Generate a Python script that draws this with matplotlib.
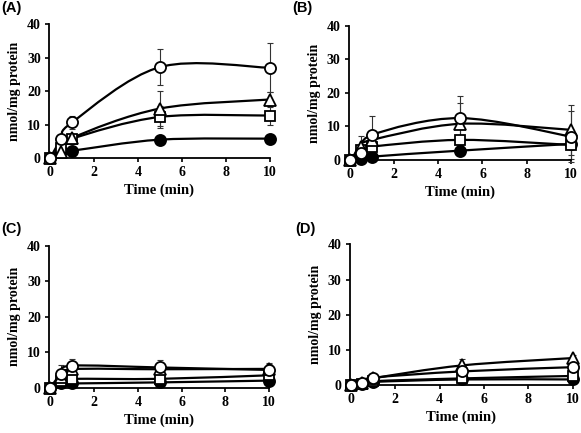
import numpy as np
import matplotlib
matplotlib.use("Agg")
import matplotlib.pyplot as plt
from matplotlib.path import Path
from matplotlib.patches import PathPatch

time = [0, 0.5, 1, 5, 10]
panel_labels = ["(A)", "(B)", "(C)", "(D)"]
x_ticks = [0, 2, 4, 6, 8, 10]
y_ticks = [0, 10, 20, 30, 40]

# Panel A
a_open_circle = [0, 5.8, 10.7, 27.2, 27.0]
a_open_circle_err = [0, 1.0, 2.0, 5.4, 7.3]
a_triangle = [0, 1.7, 6.0, 14.8, 17.5]
a_triangle_err = [0, 1.0, 1.0, 5.2, 2.2]
a_square = [0, 3.0, 5.8, 12.3, 12.7]
a_square_err = [0, 1.0, 1.0, 3.3, 2.8]
a_filled = [0, 2.0, 2.2, 5.5, 5.8]
a_filled_err = [0, 0.5, 0.5, 0.8, 0.8]

# Panel B
b_open_circle = [0, 2.0, 7.5, 12.5, 7.0]
b_open_circle_err = [0, 1.0, 5.7, 6.7, 7.5]
b_triangle = [0, 4.0, 6.0, 10.8, 9.0]
b_triangle_err = [0, 3.3, 2.0, 6.2, 7.5]
b_square = [0, 3.0, 4.0, 6.0, 4.5]
b_square_err = [0, 1.0, 1.0, 1.0, 4.3]
b_filled = [0, 0.3, 1.0, 2.8, 4.8]
b_filled_err = [0, 0.3, 0.5, 0.5, 0.5]

# Panel C
c_open_circle = [0, 4.0, 6.2, 5.7, 5.0]
c_open_circle_err = [0, 2.5, 1.8, 2.0, 2.0]
c_triangle = [0, 3.0, 5.2, 5.2, 5.3]
c_triangle_err = [0, 1.0, 1.0, 1.0, 1.5]
c_square = [0, 2.0, 2.5, 2.5, 3.5]
c_square_err = [0, 1.0, 1.0, 0.5, 0.5]
c_filled = [0, 1.2, 1.2, 1.5, 2.0]
c_filled_err = [0, 0.3, 0.3, 0.3, 0.3]

# Panel D
d_open_circle = [0, 0.6, 2.0, 3.8, 5.0]
d_open_circle_err = [0, 0.5, 1.0, 1.5, 1.0]
d_triangle = [0, 0.5, 1.8, 5.5, 7.6]
d_triangle_err = [0, 0.3, 0.5, 1.8, 1.0]
d_square = [0, 0.3, 1.0, 1.8, 2.5]
d_square_err = [0, 0.2, 0.3, 0.3, 0.3]
d_filled = [0, 0.3, 0.8, 1.5, 1.5]
d_filled_err = [0, 0.2, 0.2, 0.3, 0.3]

panels = [
    [(a_filled, a_filled_err, "o", "black"), (a_square, a_square_err, "s", "white"),
     (a_triangle, a_triangle_err, "^", "white"), (a_open_circle, a_open_circle_err, "o", "white")],
    [(b_filled, b_filled_err, "o", "black"), (b_square, b_square_err, "s", "white"),
     (b_triangle, b_triangle_err, "^", "white"), (b_open_circle, b_open_circle_err, "o", "white")],
    [(c_filled, c_filled_err, "o", "black"), (c_square, c_square_err, "s", "white"),
     (c_triangle, c_triangle_err, "^", "white"), (c_open_circle, c_open_circle_err, "o", "white")],
    [(d_filled, d_filled_err, "o", "black"), (d_square, d_square_err, "s", "white"),
     (d_triangle, d_triangle_err, "^", "white"), (d_open_circle, d_open_circle_err, "o", "white")],
]

positions = [
    [0.0845, 0.635, 0.380, 0.309],
    [0.6005, 0.6305, 0.382, 0.3095],
    [0.0845, 0.1046, 0.379, 0.328],
    [0.602, 0.1115, 0.384, 0.324],
]

# panel label anchors (figure fraction, top-left)
label_anchors = [(0.002, 0.997), (0.503, 0.997), (0.002, 0.487), (0.508, 0.487)]


def smooth_path(xs, ys):
    pts = np.column_stack([xs, ys]).astype(float)
    n = len(pts)
    verts = [pts[0]]
    codes = [Path.MOVETO]
    for i in range(n - 1):
        p0 = pts[i - 1] if i > 0 else pts[i]
        p1 = pts[i]
        p2 = pts[i + 1]
        p3 = pts[i + 2] if i + 2 < n else pts[i + 1]
        c1 = p1 + (p2 - p0) / 6.0
        c2 = p2 - (p3 - p1) / 6.0
        verts += [c1, c2, p2]
        codes += [Path.CURVE4] * 3
    return Path(verts, codes)


fig = plt.figure(figsize=(5.81, 4.33), dpi=100)
serif = "Liberation Serif"

for k, pos in enumerate(positions):
    ax = fig.add_axes(pos)
    for vals, errs, mk, face in panels[k]:
        ax.errorbar(time, vals, yerr=errs, fmt="none", ecolor="#333333",
                    elinewidth=0.8, capsize=2, capthick=0.8, zorder=2, clip_on=False)
        patch = PathPatch(smooth_path(time, vals), facecolor="none", edgecolor="black",
                          linewidth=1.6, zorder=3, clip_on=False)
        ax.add_patch(patch)
    for vals, errs, mk, face in panels[k]:
        ms = 6.8 if mk == "s" else 8.0
        ax.plot(time, vals, linestyle="none", marker=mk, markersize=ms,
                markerfacecolor=face, markeredgecolor="black", markeredgewidth=1.3,
                zorder=4, clip_on=False)
    ax.set_xlim(-0.05, 10)
    ax.set_ylim(0, 40)
    ax.set_xticks(x_ticks)
    ax.set_yticks(y_ticks)
    ax.spines["top"].set_visible(False)
    ax.spines["right"].set_visible(False)
    ax.spines["left"].set_linewidth(1.3)
    ax.spines["bottom"].set_linewidth(1.3)
    ax.tick_params(direction="out", length=3, width=1.2, labelsize=10, pad=3)
    for lab in ax.get_xticklabels() + ax.get_yticklabels():
        lab.set_fontfamily(serif)
        lab.set_fontweight("bold")
    ax.set_xlabel("Time (min)", fontfamily=serif, fontweight="bold", fontsize=10.5, labelpad=3)
    ax.set_ylabel("nmol/mg protein", fontfamily=serif, fontweight="bold", fontsize=10, labelpad=4)
    lx, ly = label_anchors[k]
    fig.text(lx, ly, panel_labels[k], fontfamily="Liberation Sans", fontweight="bold",
             fontsize=10.5, ha="left", va="top")

fig.savefig("out.png", dpi=100)
